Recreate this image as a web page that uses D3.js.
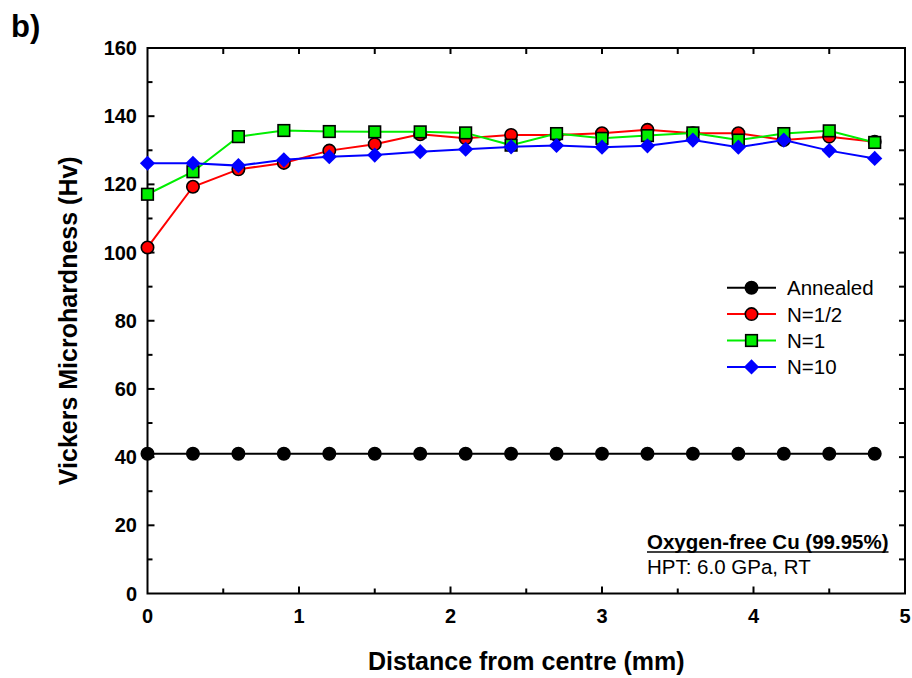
<!DOCTYPE html>
<html>
<head>
<meta charset="utf-8">
<script src="https://cdn.jsdelivr.net/npm/d3@7"></script>
<style>
  html, body { margin: 0; padding: 0; background: #fff; }
  svg { display: block; font-family: "Liberation Sans", Arial, sans-serif; }
</style>
</head>
<body>
<svg id="chart" width="912" height="678"></svg>
<script>
// Distance from the disc centre (mm)
const distance = [0, 0.3, 0.6, 0.9, 1.2, 1.5, 1.8, 2.1, 2.4, 2.7, 3.0, 3.3, 3.6, 3.9, 4.2, 4.5, 4.8];

// Vickers microhardness (Hv) for each processing condition
const annealed = [41, 41, 41, 41, 41, 41, 41, 41, 41, 41, 41, 41, 41, 41, 41, 41, 41];
const nHalf    = [101.5, 119.3, 124.4, 126.3, 129.9, 131.8, 134.7, 133.5, 134.5, 134.5, 135.0, 136.0, 135.0, 135.0, 133.0, 134.0, 132.5];
const nOne     = [117.1, 123.7, 134.0, 135.8, 135.5, 135.4, 135.4, 135.1, 131.5, 134.9, 133.5, 134.3, 135.1, 133.0, 134.9, 135.7, 132.3];
const nTen     = [126.2, 126.2, 125.5, 127.2, 128.1, 128.6, 129.6, 130.3, 131.0, 131.4, 130.9, 131.3, 133.0, 130.9, 133.0, 129.9, 127.6];

const seriesNames = ["Annealed", "N=1/2", "N=1", "N=10"];
const xTicks = [0, 1, 2, 3, 4, 5];
const yTicks = [0, 20, 40, 60, 80, 100, 120, 140, 160];

const series = [
  { name: seriesNames[0], values: annealed, line: "#000000", fill: "#000000", shape: "circle" },
  { name: seriesNames[1], values: nHalf,    line: "#ff0000", fill: "#ff0000", shape: "circle" },
  { name: seriesNames[2], values: nOne,     line: "#00ee00", fill: "#00ee00", shape: "square" },
  { name: seriesNames[3], values: nTen,     line: "#0000ff", fill: "#0000ff", shape: "diamond" }
];

const svg = d3.select("#chart");
const L = 147.5, R = 905, T = 48, B = 593.5;

const x = d3.scaleLinear().domain([0, 5]).range([L, R]);
const y = d3.scaleLinear().domain([0, 160]).range([B, T]);

const axisW = 2;

// Frame
const frame = svg.append("g").attr("stroke", "#000").attr("stroke-width", axisW).attr("fill", "none");
frame.append("rect").attr("x", L).attr("y", T).attr("width", R - L).attr("height", B - T);

// Inward ticks on all four sides
const ticks = svg.append("g").attr("stroke", "#000").attr("stroke-width", 2);
d3.range(0, 5.01, 0.5).forEach(v => {
  const major = Math.abs(v - Math.round(v)) < 1e-6;
  if (v > 0 && v < 5) {
    ticks.append("line").attr("x1", x(v)).attr("x2", x(v)).attr("y1", B).attr("y2", B - (major ? 7 : 5));
    ticks.append("line").attr("x1", x(v)).attr("x2", x(v)).attr("y1", T).attr("y2", T + 6);
  }
});
d3.range(0, 161, 10).forEach(v => {
  const major = v % 20 === 0;
  if (v > 0 && v < 160) {
    ticks.append("line").attr("y1", y(v)).attr("y2", y(v)).attr("x1", L).attr("x2", L + (major ? 7 : 5));
    ticks.append("line").attr("y1", y(v)).attr("y2", y(v)).attr("x1", R).attr("x2", R - 6);
  }
});

// Tick labels
const tickFont = 20;
svg.append("g").selectAll("text").data(xTicks).join("text")
  .attr("x", d => x(d)).attr("y", 623)
  .attr("text-anchor", "middle").attr("font-weight", "bold").attr("font-size", tickFont)
  .text(d => d);
svg.append("g").selectAll("text").data(yTicks).join("text")
  .attr("x", 137).attr("y", d => y(d) + 7)
  .attr("text-anchor", "end").attr("font-weight", "bold").attr("font-size", tickFont)
  .text(d => d);

// Axis titles
svg.append("text")
  .attr("x", (L + R) / 2).attr("y", 670)
  .attr("text-anchor", "middle").attr("font-weight", "bold").attr("font-size", 25)
  .text("Distance from centre (mm)");
svg.append("text")
  .attr("transform", `translate(77,${(T + B) / 2}) rotate(-90)`)
  .attr("text-anchor", "middle").attr("font-weight", "bold").attr("font-size", 25)
  .text("Vickers Microhardness (Hv)");

// Panel letter
svg.append("text").attr("x", 11).attr("y", 37)
  .attr("font-weight", "bold").attr("font-size", 31).text("b)");

// Marker drawing helper
function marker(g, s, cx, cy) {
  if (s.shape === "circle") {
    g.append("circle").attr("cx", cx).attr("cy", cy).attr("r", 6.2)
      .attr("fill", s.fill).attr("stroke", "#000").attr("stroke-width", 1.6);
  } else if (s.shape === "square") {
    g.append("rect").attr("x", cx - 5.8).attr("y", cy - 5.8).attr("width", 11.6).attr("height", 11.6)
      .attr("fill", s.fill).attr("stroke", "#000").attr("stroke-width", 1.6);
  } else {
    const h = 7.6;
    g.append("path").attr("d", `M${cx},${cy - h}L${cx + h},${cy}L${cx},${cy + h}L${cx - h},${cy}Z`)
      .attr("fill", s.fill);
  }
}

// Series lines and markers
const line = d3.line().x((d, i) => x(distance[i])).y(d => y(d));
series.forEach(s => {
  const g = svg.append("g");
  g.append("path").attr("d", line(s.values))
    .attr("fill", "none").attr("stroke", s.line).attr("stroke-width", 2);
  s.values.forEach((v, i) => marker(g, s, x(distance[i]), y(v)));
});

// Legend
const lg = svg.append("g");
series.forEach((s, i) => {
  const cy = 287.7 + i * 26.4;
  lg.append("line").attr("x1", 727).attr("x2", 776).attr("y1", cy).attr("y2", cy)
    .attr("stroke", s.line).attr("stroke-width", 2);
  marker(lg, s, 751.5, cy);
  lg.append("text").attr("x", 787).attr("y", cy + 7.5).attr("font-size", 20.5).text(s.name);
});

// Material / processing note
const note = svg.append("g");
const t1 = note.append("text").attr("x", 647).attr("y", 549)
  .attr("font-weight", "bold").attr("font-size", 20.5).text("Oxygen-free Cu (99.95%)");
const bb = t1.node().getBBox();
note.append("line").attr("x1", bb.x).attr("x2", bb.x + bb.width).attr("y1", 552).attr("y2", 552)
  .attr("stroke", "#000").attr("stroke-width", 1.6);
note.append("text").attr("x", 647).attr("y", 574)
  .attr("font-size", 20.5).text("HPT: 6.0 GPa, RT");
</script>
</body>
</html>
